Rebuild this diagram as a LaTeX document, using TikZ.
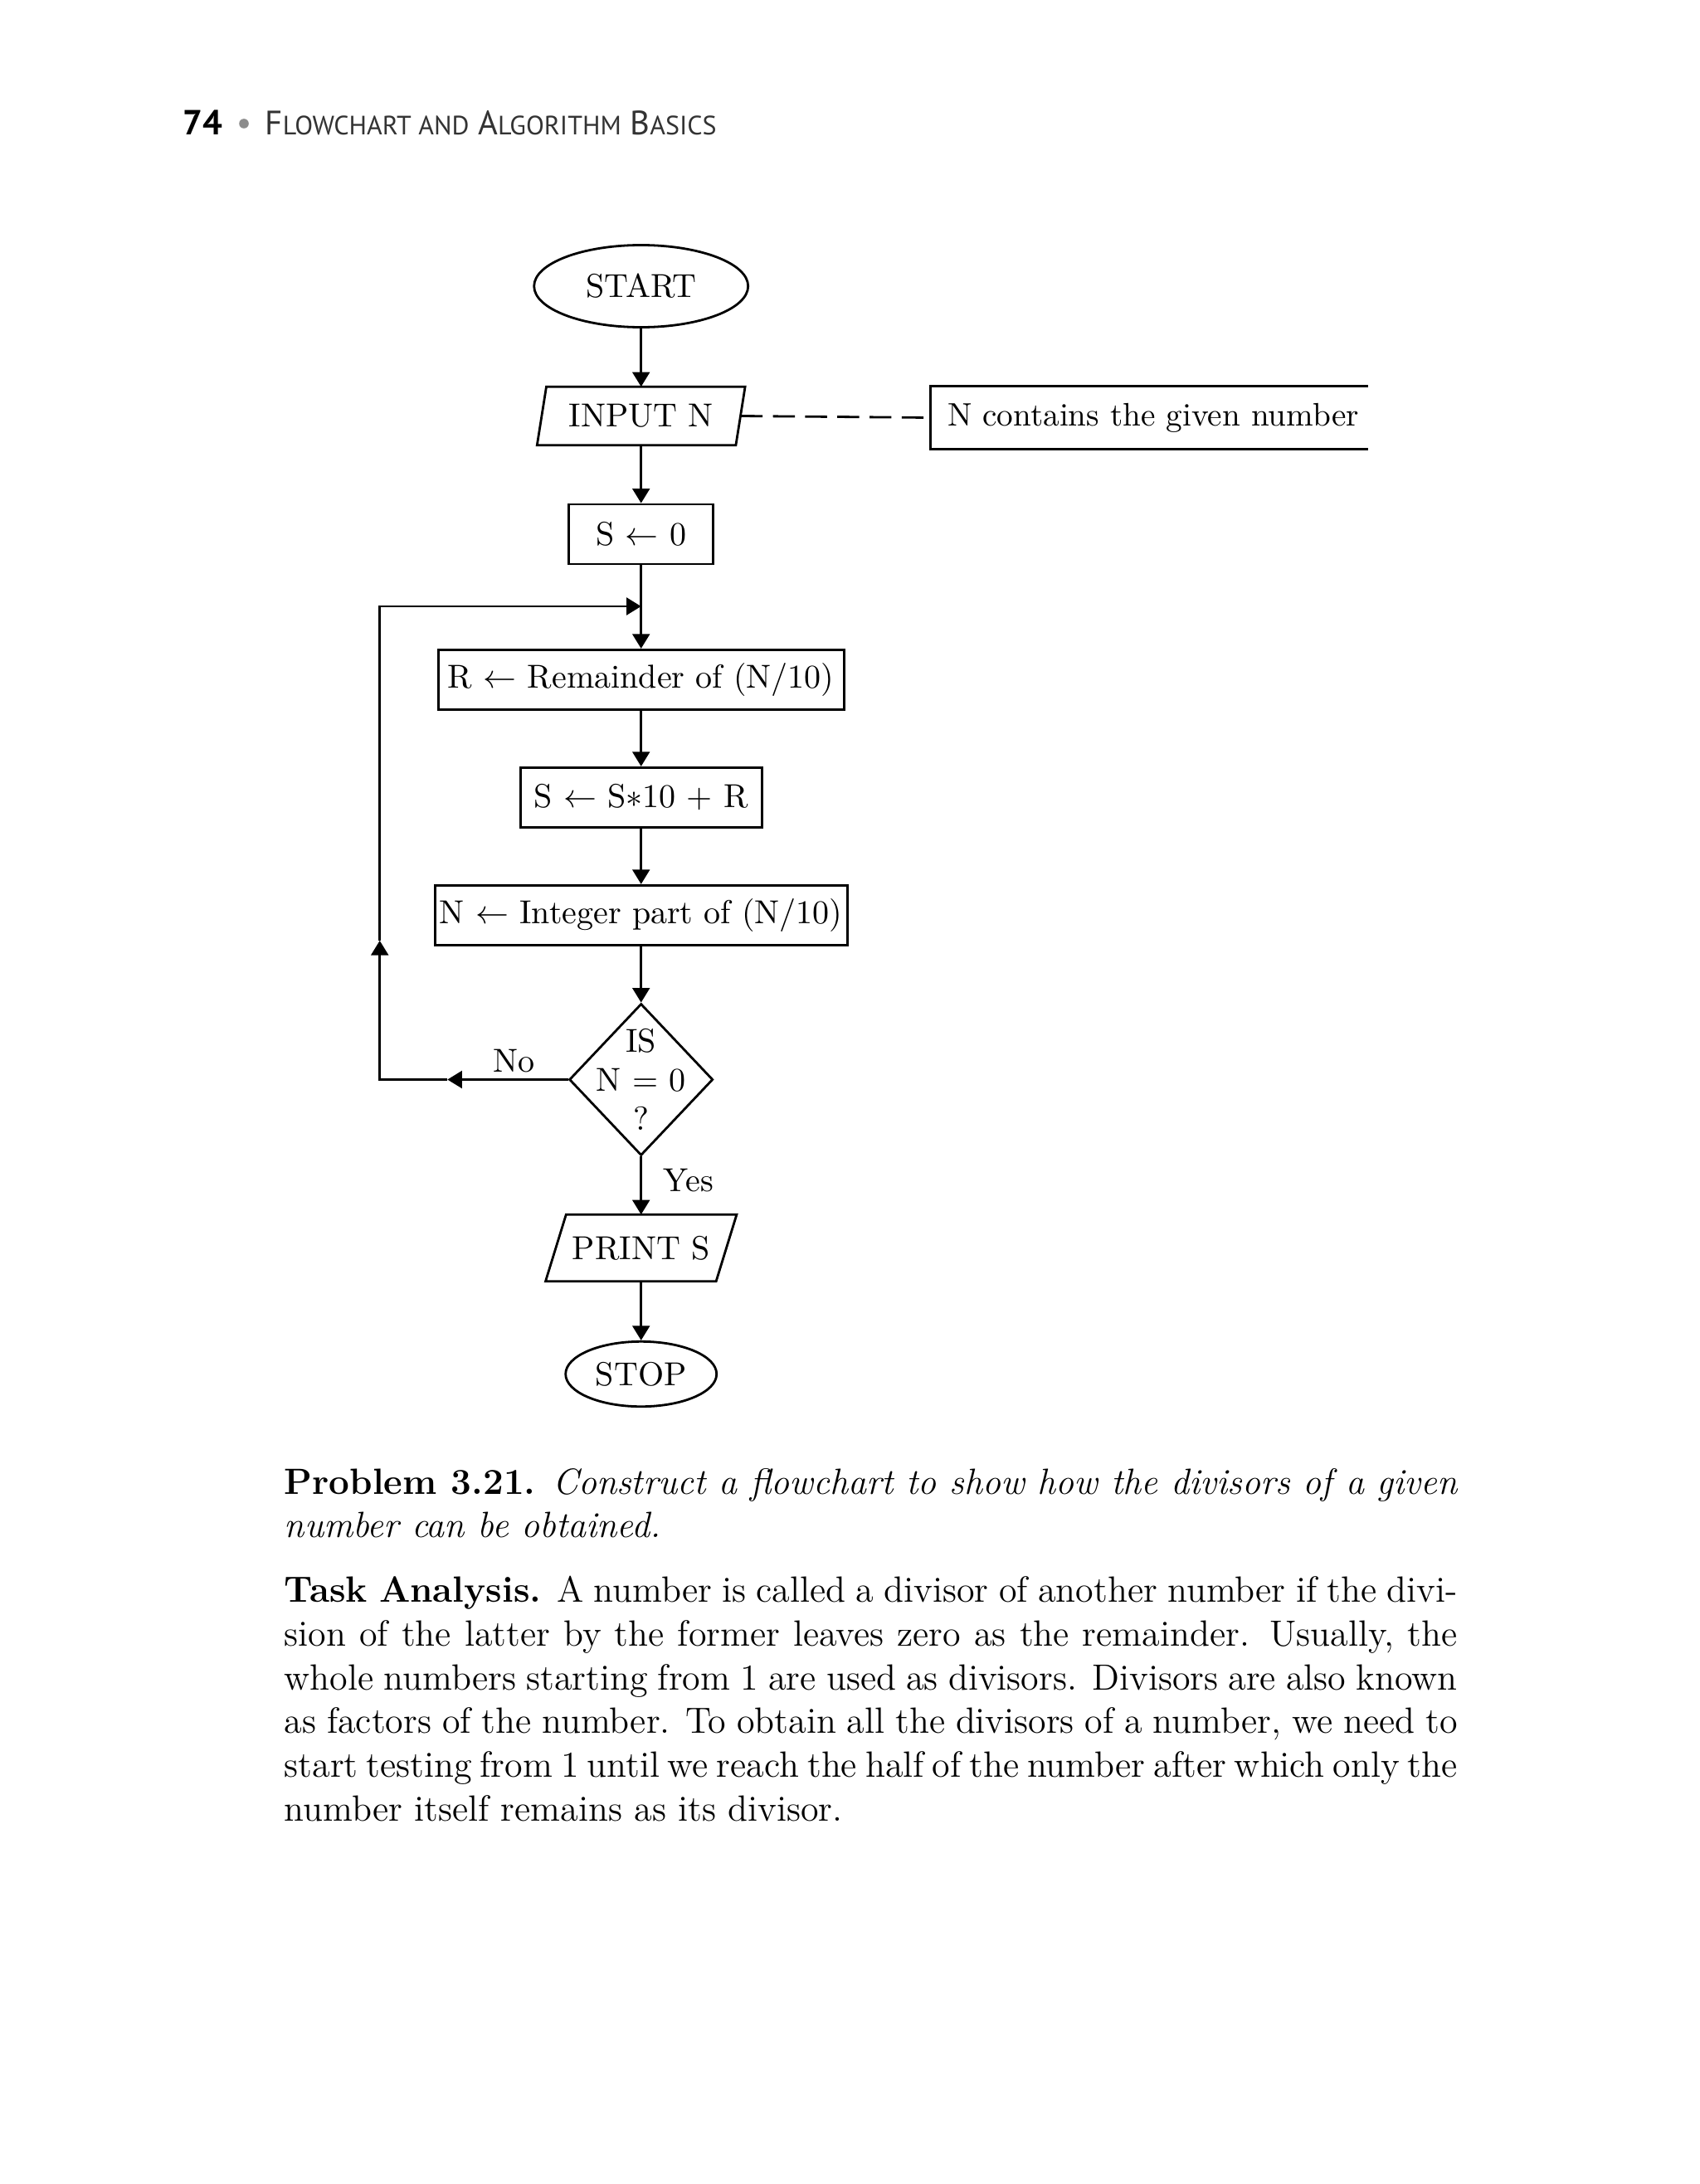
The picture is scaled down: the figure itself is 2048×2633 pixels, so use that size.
\documentclass[tikz,border=0pt]{standalone}
\usepackage{fontspec}
\newfontfamily\headfont{PT Sans}
\usetikzlibrary{shapes.geometric,arrows.meta}
\newcommand\flowfont{\fontsize{10pt}{11.7pt}\selectfont}
\newcommand\hdA[1]{{\fontsize{10.2pt}{12pt}\selectfont #1}}
\newcommand\hdB[1]{{\fontsize{8pt}{10pt}\selectfont #1}}
\begin{document}
\begin{tikzpicture}[x=0.25pt,y=-0.25pt,
  line/.style={line width=0.7pt},
  arr/.style={line width=0.7pt,-{Triangle[length=4.4pt,width=5.2pt]}},
  box/.style={draw,line width=0.7pt,rectangle,inner sep=0pt,font=\flowfont},
  term/.style={draw,line width=0.7pt,ellipse,inner sep=0pt,font=\flowfont},
  iobox/.style={rectangle,inner sep=0pt,font=\flowfont},
  lbl/.style={inner sep=0pt,font=\flowfont},
  body/.style={inner sep=0pt,text width=353.5pt,align=justify,font=\fontsize{11pt}{13.2pt}\selectfont}]
\useasboundingbox (0,0) rectangle (2048,2633);
\fill[white] (0,0) rectangle (2048,2633);

% running head
\node[anchor=base west,inner sep=0pt,font=\headfont\bfseries\fontsize{10.5pt}{12pt}\selectfont] (pnum) at (220,163) {74};
\node[circle,fill=black!45,inner sep=0pt,minimum size=2.9pt] (dot) at (294,149) {};
\node[anchor=base west,inner sep=0pt,font=\headfont,text=black!80] (runhead) at (319,163)
  {\hdA{F}\hdB{LOWCHART AND} \hdA{A}\hdB{LGORITHM} \hdA{B}\hdB{ASICS}};

% flowchart nodes
\node[term,minimum width=64.5pt,minimum height=24.75pt] (start) at (772.7,345) {START};
\node[iobox,minimum width=59.5pt,minimum height=17.25pt] (input) at (772.7,501.5) {INPUT N};
\draw[line] ([xshift=1.4pt]input.north west) -- ([xshift=1.4pt]input.north east)
  -- ([xshift=-1.4pt]input.south east) -- ([xshift=-1.4pt]input.south west) -- cycle;
\node[rectangle,inner xsep=5pt,inner ysep=0pt,minimum width=131.5pt,
  minimum height=18.75pt,font=\fontsize{9.8pt}{11.7pt}\selectfont] (note) at (1385,503.5) {\makebox[121.5pt][l]{N contains the given number}};
\draw[line] (note.north east) -- (note.north west) -- (note.south west) -- (note.south east);
\draw[line,dash pattern=on 6.6pt off 3.1pt,dash phase=7.7pt] (note.west) -- (input.east);

\node[box,minimum width=43.5pt,minimum height=18pt] (s0) at (772.7,644) {S $\leftarrow$ 0};
\node[box,minimum width=122.3pt,minimum height=18.1pt] (rbox) at (772.7,819.5) {R $\leftarrow$ Remainder of (N/10)};
\node[box,minimum width=72.7pt,minimum height=18.1pt] (sbox) at (772.7,961.5) {S $\leftarrow$ S$*$10 + R};
\node[box,minimum width=124.25pt,minimum height=18pt] (nbox) at (772.7,1103.3) {N $\leftarrow$ Integer part of (N/10)};
\node[draw,diamond,line width=0.7pt,minimum width=43.3pt,minimum height=45.75pt,inner sep=0pt] (dec) at (772.7,1301.5) {};
\node[lbl,align=center] (dectext) at (dec.center) {IS\\N = 0\\?};
\node[iobox,minimum width=51pt,minimum height=19.75pt] (print) at (772.7,1504.5) {PRINT S};
\draw[line] ([xshift=3.1pt]print.north west) -- ([xshift=3.1pt]print.north east)
  -- ([xshift=-3.1pt]print.south east) -- ([xshift=-3.1pt]print.south west) -- cycle;
\node[term,minimum width=45.5pt,minimum height=19.6pt] (stop) at (772.7,1656.5) {STOP};

\node[lbl,anchor=base east] (no) at (645,1292.7) {No};
\node[lbl,anchor=base west] (yes) at (799,1436) {Yes};

% connectors
\draw[arr] (start) -- (input);
\draw[arr] (input) -- (s0);
\draw[arr] (s0) -- (rbox);
\draw[arr] (rbox) -- (sbox);
\draw[arr] (sbox) -- (nbox);
\draw[arr] (nbox) -- (dec);
\draw[arr] (dec) -- (print);
\draw[arr] (print) -- (stop);

\coordinate (noTip) at (539.3,1301.5);
\coordinate (bl) at (457.7,1301.5);
\coordinate (upTip) at (457.7,1134);
\coordinate (tl) at (457.7,731);
\coordinate (join) at (772.7,731);
\draw[arr] (dec.west) -- (noTip);
\draw[arr] (noTip) -- (bl) -- (upTip);
\draw[arr] (upTip) -- (tl) -- (join);

% text
\node[body,anchor=base west] (prob) at (342,1801)
  {\textbf{Problem 3.21.} \textit{Construct a flowchart to show how the divisors of a given\linebreak number can be obtained.}};
\node[body,anchor=base west] (task) at (342,1931.5)
  {\textbf{Task Analysis.} A number is called a divisor of another number if the divi-\linebreak
   sion of the latter by the former leaves zero as the remainder. Usually, the\linebreak
   whole numbers starting from 1 are used as divisors. Divisors are also known\linebreak
   as factors of the number. To obtain all the divisors of a number, we need to\linebreak
   start testing from 1 until we reach the half of the number after which only the\linebreak
   number itself remains as its divisor.};
\end{tikzpicture}
\end{document}
